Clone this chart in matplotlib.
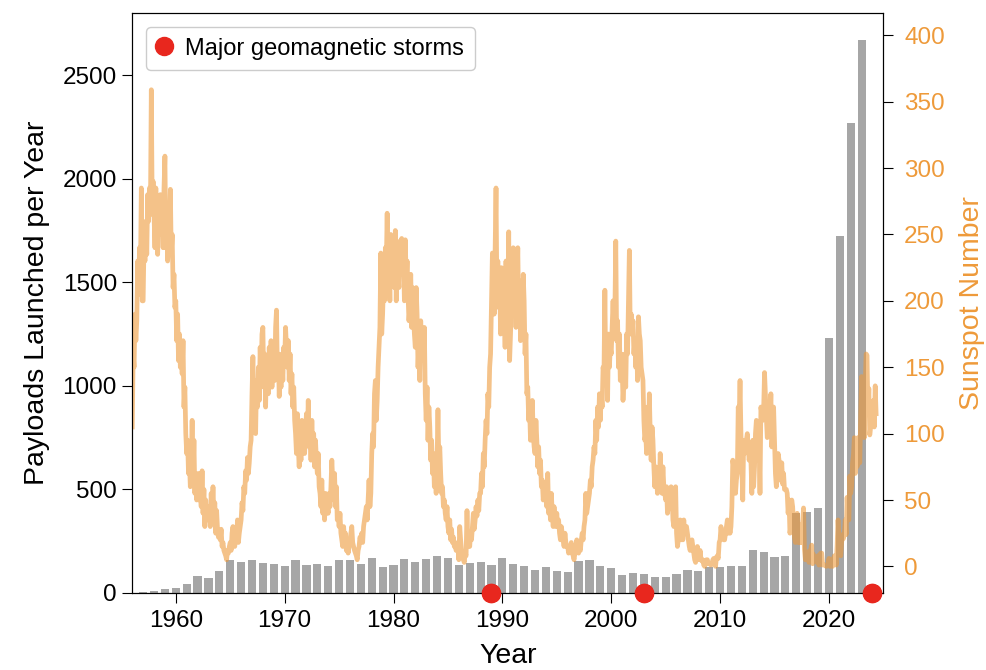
import matplotlib
matplotlib.use("Agg")
import matplotlib.pyplot as plt
import numpy as np

plt.rcParams["font.family"] = ["Liberation Sans", "DejaVu Sans"]
plt.rcParams["font.size"] = 17.5
plt.rcParams["axes.labelsize"] = 20.5
plt.rcParams["xtick.major.size"] = 7
plt.rcParams["ytick.major.size"] = 7
plt.rcParams["xtick.major.pad"] = 5
plt.rcParams["ytick.major.pad"] = 4

# Payloads launched per year
payload_years = list(range(1957, 2024))
payloads = [
    3, 8, 19, 24, 43, 82, 72, 108, 158, 150,
    160, 144, 139, 131, 158, 135, 139, 131, 158, 161,
    139, 168, 124, 134, 163, 150, 163, 177, 168, 137,
    145, 150, 137, 168, 140, 129, 113, 126, 105, 102,
    155, 161, 131, 121, 85, 97, 90, 77, 77, 92,
    111, 108, 124, 124, 131, 132, 206, 198, 174, 177,
    385, 390, 412, 1233, 1726, 2268, 2669,
]

# Monthly sunspot number, one row per year starting January 1956
sunspot_start = 1956
sunspots = [
    105, 160, 150, 190, 170, 185, 230, 205, 240, 220, 285, 200,  # 1956
    200, 245, 230, 260, 235, 280, 260, 285, 265, 359, 270, 290,  # 1957
    265, 240, 285, 250, 235, 270, 260, 280, 250, 275, 240, 285,  # 1958
    309, 240, 265, 230, 245, 255, 284, 235, 250, 210, 220, 195,  # 1959
    200, 170, 190, 155, 175, 150, 165, 145, 170, 120, 135, 100,  # 1960
    85, 95, 70, 80, 60, 75, 110, 65, 95, 55, 70, 50,  # 1961
    60, 70, 50, 55, 45, 72, 40, 58, 30, 50, 35, 42,  # 1962
    35, 45, 30, 55, 40, 60, 38, 48, 25, 42, 28, 22,  # 1963
    25, 20, 28, 15, 18, 12, 10, 8, 5, 12, 10, 15,  # 1964
    18, 12, 25, 30, 22, 15, 28, 20, 35, 18, 25, 30,  # 1965
    35, 48, 42, 60, 55, 72, 65, 82, 70, 78, 90, 95,  # 1966
    130, 158, 110, 125, 100, 140, 120, 150, 125, 165, 140, 175,  # 1967
    180, 135, 160, 120, 155, 145, 130, 165, 140, 170, 135, 150,  # 1968
    150, 140, 180, 193, 145, 160, 128, 150, 135, 160, 140, 165,  # 1969
    155, 180, 165, 150, 170, 140, 160, 130, 145, 120, 135, 110,  # 1970
    100, 85, 115, 90, 75, 95, 80, 110, 90, 105, 85, 100,  # 1971
    115, 95, 125, 90, 105, 80, 110, 85, 100, 75, 95, 80,  # 1972
    70, 85, 60, 55, 45, 65, 40, 50, 35, 55, 40, 45,  # 1973
    40, 55, 45, 60, 80, 65, 50, 70, 45, 60, 35, 40,  # 1974
    30, 40, 25, 20, 15, 30, 20, 25, 12, 18, 10, 15,  # 1975
    20, 25, 30, 18, 15, 12, 10, 8, 5, 12, 15, 22,  # 1976
    20, 25, 18, 30, 35, 40, 45, 35, 50, 65, 45, 55,  # 1977
    85, 100, 90, 130, 140, 110, 125, 150, 165, 180, 236, 175,  # 1978
    190, 215, 200, 240, 225, 266, 210, 230, 200, 250, 225, 245,  # 1979
    230, 210, 253, 200, 240, 220, 210, 245, 230, 247, 220, 235,  # 1980
    200, 246, 215, 230, 205, 185, 195, 220, 180, 210, 190, 175,  # 1981
    165, 210, 190, 150, 170, 140, 185, 160, 170, 155, 180, 130,  # 1982
    110, 135, 95, 120, 105, 80, 95, 70, 85, 60, 75, 55,  # 1983
    80, 118, 75, 90, 70, 55, 60, 45, 50, 40, 35, 45,  # 1984
    30, 25, 35, 20, 28, 18, 22, 15, 18, 12, 16, 15,  # 1985
    5, 30, 20, 12, 8, 5, 3, 10, 8, 42, 15, 20,  # 1986
    15, 25, 20, 30, 40, 28, 35, 45, 38, 50, 42, 55,  # 1987
    55, 70, 60, 85, 75, 95, 110, 100, 130, 120, 150, 160,  # 1988
    200, 236, 215, 190, 240, 285, 205, 230, 195, 220, 175, 225,  # 1989
    215, 185, 200, 165, 230, 180, 200, 252, 155, 175, 200, 190,  # 1990
    240, 210, 225, 180, 205, 240, 190, 215, 170, 200, 185, 220,  # 1991
    200, 160, 175, 130, 135, 110, 120, 95, 110, 125, 100, 90,  # 1992
    85, 110, 95, 75, 90, 70, 80, 60, 65, 50, 55, 60,  # 1993
    60, 45, 70, 40, 50, 35, 55, 40, 30, 45, 35, 30,  # 1994
    40, 30, 35, 25, 20, 30, 25, 20, 15, 25, 18, 15,  # 1995
    15, 10, 12, 15, 18, 10, 8, 5, 10, 15, 20, 12,  # 1996
    10, 15, 12, 20, 25, 20, 30, 35, 55, 40, 45, 50,  # 1997
    55, 65, 60, 75, 80, 90, 85, 110, 95, 120, 105, 130,  # 1998
    110, 130, 120, 150, 145, 208, 140, 160, 125, 175, 150, 165,  # 1999
    160, 180, 200, 175, 190, 245, 170, 185, 150, 175, 140, 160,  # 2000
    150, 125, 140, 160, 135, 175, 160, 200, 238, 175, 190, 175,  # 2001
    185, 160, 170, 150, 170, 140, 188, 175, 170, 150, 145, 140,  # 2002
    110, 95, 100, 85, 120, 95, 130, 100, 80, 105, 95, 75,  # 2003
    60, 75, 65, 55, 70, 60, 85, 65, 55, 75, 60, 55,  # 2004
    50, 60, 40, 45, 55, 50, 60, 55, 35, 30, 40, 60,  # 2005
    25, 15, 20, 30, 35, 20, 25, 20, 35, 25, 30, 30,  # 2006
    25, 20, 15, 12, 18, 20, 15, 10, 5, 3, 8, 15,  # 2007
    8, 5, 12, 5, 4, 5, 1, 0, 2, 5, 5, 2,  # 2008
    2, 2, 1, 2, 5, 6, 5, 0, 7, 8, 6, 18,  # 2009
    20, 30, 22, 25, 20, 20, 25, 30, 35, 25, 30, 25,  # 2010
    30, 45, 80, 75, 65, 55, 65, 70, 120, 110, 140, 100,  # 2011
    75, 50, 95, 85, 95, 95, 100, 90, 80, 85, 80, 55,  # 2012
    95, 60, 75, 100, 110, 80, 90, 95, 55, 120, 115, 110,  # 2013
    118, 146, 128, 112, 97, 102, 100, 107, 130, 90, 101, 120,  # 2014
    95, 70, 60, 80, 85, 80, 65, 65, 78, 62, 70, 58,  # 2015
    58, 58, 55, 40, 50, 25, 30, 50, 45, 32, 22, 18,  # 2016
    27, 40, 18, 32, 18, 20, 18, 33, 44, 13, 5, 8,  # 2017
    7, 11, 3, 9, 13, 16, 2, 9, 4, 4, 6, 3,  # 2018
    8, 1, 9, 10, 10, 1, 1, 1, 1, 0, 1, 1,  # 2019
    6, 0, 2, 5, 0, 6, 8, 8, 1, 15, 35, 23,  # 2020
    10, 8, 18, 24, 21, 25, 35, 24, 52, 37, 35, 68,  # 2021
    55, 60, 78, 84, 97, 70, 91, 75, 97, 96, 78, 113,  # 2022
    143, 111, 123, 97, 137, 160, 159, 115, 134, 99, 105, 114,  # 2023
    124, 125, 105, 136, 115,  # 2024
]

# Major geomagnetic storms
storm_years = [1989, 2003, 2024]

sun_color = "#ee9a3a"
storm_color = "#e8271e"

sunspot_time = sunspot_start + np.arange(len(sunspots)) / 12

fig, ax = plt.subplots(figsize=(9.87, 6.7), dpi=100)
fig.subplots_adjust(left=0.134, right=0.895, bottom=0.115, top=0.981)

ax.bar(payload_years, payloads, width=0.75, color="gray", alpha=0.7, zorder=2)
ax.set_ylim(0, max(payloads) * 1.05)
ax.set_xlim(1956, 2025)
ax.set_xlabel("Year", labelpad=8)
ax.set_ylabel("Payloads Launched per Year", labelpad=9)

storms, = ax.plot(storm_years, [0] * len(storm_years), "o", color=storm_color,
                  markersize=13, clip_on=False, zorder=10,
                  label="Major geomagnetic storms")

ax2 = ax.twinx()
ax2.plot(sunspot_time, sunspots, color=sun_color, alpha=0.6, lw=3.4)
ax2.set_ylim(-20, 417)
ax2.set_ylabel("Sunspot Number", color=sun_color, labelpad=10)
ax2.tick_params(axis="y", labelcolor=sun_color, color="black", pad=8)

leg = ax2.legend(handles=[storms], loc="upper left", fontsize=17,
                 handlelength=0.6, handletextpad=0.6, borderpad=0.45,
                 borderaxespad=0.6, framealpha=1)
leg.get_frame().set_edgecolor("#cccccc")

# redraw the storm markers above the sunspot curve
ax2.plot(storm_years, [-20] * len(storm_years), "o", color=storm_color,
         markersize=13, clip_on=False, zorder=10)

plt.savefig("out.png", dpi=100)
